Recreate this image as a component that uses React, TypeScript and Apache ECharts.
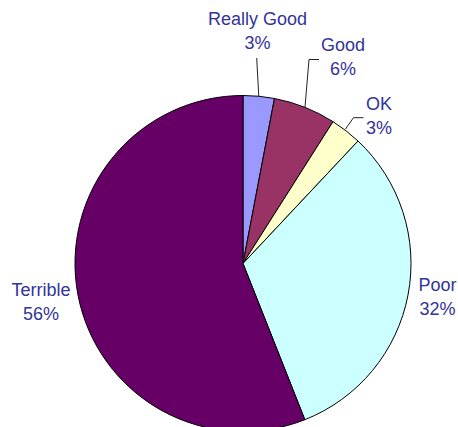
import React, { useEffect, useRef } from "react";
import * as echarts from "echarts";

const categories = ["Really Good", "Good", "OK", "Poor", "Terrible"];
const values = [3, 6, 3, 32, 56];
const colors = ["#9999FF", "#993366", "#FFFFCC", "#CCFFFF", "#660066"];

// label placement (layout only)
const labelPos: { x: number; y: number; line: number[][] | null }[] = [
  { x: 257.5, y: 31, line: [[258.8, 96.5], [256.7, 58]] },
  { x: 343, y: 57, line: [[305, 107], [309, 59.5], [319, 59.5]] },
  { x: 379, y: 116.3, line: [[345.5, 129], [353.5, 117.7], [363.5, 117.7]] },
  { x: 437.5, y: 296.5, line: null },
  { x: 41, y: 301.5, line: null },
];

export default function App() {
  const ref = useRef<HTMLDivElement>(null);
  useEffect(() => {
    document.body.style.margin = "0";
    if (!ref.current) return;
    const chart = echarts.init(ref.current, null, { renderer: "svg" });
    chart.setOption({
      animation: false,
      backgroundColor: "#FFFFFF",
      series: [
        {
          type: "pie",
          center: [243, 263.5],
          radius: 168,
          startAngle: 90,
          clockwise: true,
          avoidLabelOverlap: false,
          itemStyle: { borderColor: "#000000", borderWidth: 1 },
          label: {
            show: true,
            position: "outside",
            formatter: "{b}\n{d}%",
            color: "#333399",
            fontSize: 18,
            lineHeight: 24,
            fontFamily: "'Liberation Sans', Arial, sans-serif",
            align: "center",
          },
          labelLine: {
            show: true,
            lineStyle: { color: "#222222", width: 1 },
          },
          labelLayout: (params: any) => {
            const p = labelPos[params.dataIndex];
            const out: any = {
              x: p.x,
              y: p.y,
              align: "center",
              verticalAlign: "middle",
            };
            if (p.line) out.labelLinePoints = p.line;
            return out;
          },
          data: categories.map((c, i) => ({
            name: c,
            value: values[i],
            itemStyle: { color: colors[i] },
            labelLine: { show: i < 3 },
          })),
        },
      ],
    });
    return () => chart.dispose();
  }, []);
  return <div ref={ref} style={{ width: 458, height: 427 }} />;
}
